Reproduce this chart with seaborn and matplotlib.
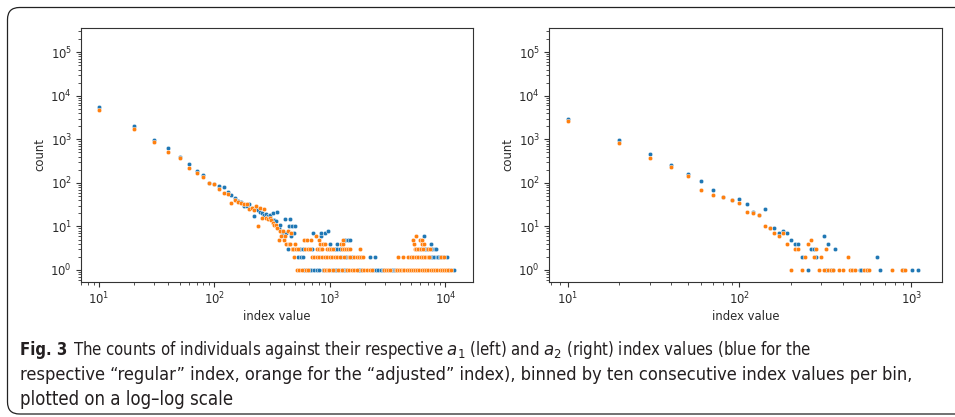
import matplotlib
matplotlib.use("Agg")
import matplotlib.pyplot as plt
import seaborn as sns
import pandas as pd
from matplotlib.patches import FancyBboxPatch
from matplotlib import font_manager
from matplotlib.font_manager import FontProperties

# ---------------- data ----------------
# a1, regular index (blue): dense part 10..500
a1_reg_x = [10, 20, 30, 40, 50, 60, 70, 80, 90, 100, 110, 120, 130, 140, 150, 160, 170, 180, 190, 200,
            210, 220, 230, 240, 250, 260, 270, 280, 290, 300, 310, 320, 330, 340, 350, 360, 370, 380, 390, 400,
            410, 420, 430, 440, 450, 460, 470, 480, 490, 500]
a1_reg_n = [5400, 2050, 980, 620, 400, 275, 190, 150, 98, 92, 86, 80, 62, 52, 46, 38, 36, 30, 29, 32,
            26, 17, 26, 24, 22, 20, 18, 19, 17, 18, 15, 20, 14, 13, 21, 9, 11, 8, 7, 6,
            15, 7, 3, 10, 15, 6, 10, 3, 7, 10]
# a1, regular index: sparse tail, grouped by count
a1_reg_tail_1 = [600, 630, 660, 690, 730, 770, 800, 870, 1040, 1090, 1130, 1200, 1260, 1320, 1380, 1750, 1800,
                 1860, 2370, 2490, 2610, 2740, 2880, 3420, 3550, 3650, 10700, 11800]
a1_reg_tail_2 = [530, 560, 590, 1250, 1390, 1560, 2210, 2440, 7400, 7700, 8000, 8400, 8600, 8900, 9550, 10400]
a1_reg_tail_3 = [550, 580, 700, 1100, 1150, 1220, 6000, 6600, 6860, 7570, 8090, 8300]
a1_reg_tail_4 = [1010, 1140, 7460]
a1_reg_tail_5 = [1350, 1420, 1500]
a1_reg_tail_6 = [840, 6530]
a1_reg_tail_7 = [720, 830, 910]
a1_reg_tail_8 = [960]

# a1, adjusted index (orange)
a1_adj_x = a1_reg_x
a1_adj_n = [4800, 1720, 880, 510, 364, 216, 167, 135, 97, 93, 74, 58, 55, 35, 41, 37, 34, 32, 33, 25,
            27, 24, 29, 10, 26, 16, 25, 16, 15, 16, 14, 12, 11, 11, 9, 5, 8, 6, 8, 5,
            6, 4, 8, 4, 4, 7, 3, 3, 2, 4]
a1_adj_tail_1 = [520, 540, 570, 620, 650, 880, 920, 960, 990, 1070, 1170, 1280, 1410, 1470, 1540, 1620, 1700,
                 1900, 1990, 2090, 2200, 2300, 2950, 3050, 3150, 3300, 3700, 3800, 3950, 4100, 4250, 4400,
                 4600, 4800, 5000, 5200, 5450, 5700, 5950, 6200, 6500, 6800, 7100, 7450, 7800, 8150, 8500,
                 8900, 9300, 9700, 10100, 10500, 11100]
a1_adj_tail_2 = [700, 730, 770, 810, 850, 900, 950, 1000, 1050, 1110, 1160, 1220, 1310, 1450, 1500, 1620,
                 1710, 1780, 1860, 1940, 3890, 4300, 4750, 5000, 5250, 5500, 5800, 6100, 6400, 6700, 7000,
                 7200, 9200, 9800]
a1_adj_tail_3 = [510, 530, 610, 640, 670, 780, 800, 830, 860, 940, 980, 1020, 1060, 1260, 1330, 1380, 1440,
                 1480, 1810, 5400, 5600, 5800, 6150, 6400, 7050, 7300]
a1_adj_tail_4 = [820, 870, 910, 1240, 1290, 5330, 6250, 6550]
a1_adj_tail_5 = [600, 630, 680, 800, 1300, 5250, 6000, 6300]
a1_adj_tail_6 = [760, 5550]

# a2, regular index (blue)
a2_reg_x = [10, 20, 30, 40, 50, 60, 70, 80, 90, 100, 110, 120, 130, 140, 150, 160, 170, 180, 190, 200,
            210, 220, 230, 250, 260, 270, 280, 310, 320, 330, 340, 350, 360, 500, 510, 550, 630, 660,
            890, 900, 1010, 1100]
a2_reg_n = [2900, 980, 465, 256, 164, 112, 68, 47, 41, 42, 32, 22, 18, 25, 9, 9, 7, 8, 7, 5,
            4, 4, 2, 1, 3, 3, 2, 6, 1, 4, 1, 1, 3, 1, 1, 1, 2, 1,
            1, 1, 1, 1]
# a2, adjusted index (orange)
a2_adj_x = [10, 20, 30, 40, 50, 60, 70, 80, 90, 100, 110, 120, 130, 140, 150, 160, 170, 180, 190, 200,
            210, 220, 230, 240, 250, 260, 270, 280, 290, 300, 310, 320, 330, 340, 350, 380, 400, 430,
            440, 450, 470, 530, 550, 570, 770, 880, 920]
a2_adj_n = [2690, 820, 364, 226, 143, 68, 53, 47, 41, 35, 22, 20, 18, 10, 9, 7, 6, 7, 4, 1,
            3, 3, 1, 2, 4, 5, 2, 3, 1, 2, 1, 3, 1, 1, 1, 1, 1, 2,
            1, 1, 1, 1, 1, 1, 1, 1, 1]

caption_bold = "Fig. 3"
caption_lines = [
    "The counts of individuals against their respective $a_1$ (left) and $a_2$ (right) index values (blue for the",
    "respective \u201cregular\u201d index, orange for the \u201cadjusted\u201d index), binned by ten consecutive index values per bin,",
    "plotted on a log\u2013log scale",
]

BLUE = "#1f77b4"
ORANGE = "#ff7f0e"


def tail_frame(groups):
    xs, ns = [], []
    for n, lst in groups:
        xs += lst
        ns += [n] * len(lst)
    return xs, ns


rx, rn = tail_frame([(1, a1_reg_tail_1), (2, a1_reg_tail_2), (3, a1_reg_tail_3), (4, a1_reg_tail_4),
                     (5, a1_reg_tail_5), (6, a1_reg_tail_6), (7, a1_reg_tail_7), (8, a1_reg_tail_8)])
ox, on = tail_frame([(1, a1_adj_tail_1), (2, a1_adj_tail_2), (3, a1_adj_tail_3), (4, a1_adj_tail_4),
                     (5, a1_adj_tail_5), (6, a1_adj_tail_6)])

df1_reg = pd.DataFrame({"index value": a1_reg_x + rx, "count": a1_reg_n + rn})
df1_adj = pd.DataFrame({"index value": a1_adj_x + ox, "count": a1_adj_n + on})
df2_reg = pd.DataFrame({"index value": a2_reg_x, "count": a2_reg_n})
df2_adj = pd.DataFrame({"index value": a2_adj_x, "count": a2_adj_n})

# ---------------- figure ----------------
sns.set_style("ticks")
plt.rcParams["font.family"] = ["DejaVu Sans"]
plt.rcParams["mathtext.fontset"] = "dejavusans"

W, H = 955, 417
fig = plt.figure(figsize=(W / 100, H / 100), dpi=100)

ax1 = fig.add_axes([81 / W, 1 - 282 / H, 392 / W, 254 / H])
ax2 = fig.add_axes([549 / W, 1 - 282 / H, 393 / W, 254 / H])

for ax, dr, da, xl in [(ax1, df1_reg, df1_adj, (7.0, 17300)),
                       (ax2, df2_reg, df2_adj, (7.8, 1510))]:
    sns.scatterplot(data=dr, x="index value", y="count", ax=ax, color=BLUE, s=10,
                    linewidth=0.3, edgecolor="white", zorder=2)
    sns.scatterplot(data=da, x="index value", y="count", ax=ax, color=ORANGE, s=10,
                    linewidth=0.3, edgecolor="white", zorder=3)
    ax.set_xscale("log")
    ax.set_yscale("log")
    ax.set_xlim(*xl)
    ax.set_ylim(0.53, 3.6e5)
    for sp in ax.spines.values():
        sp.set_visible(True)
        sp.set_color("#333333")
        sp.set_linewidth(0.8)
    ax.tick_params(axis="both", which="major", labelsize=8.4, length=3.5, width=0.8, colors="#333333",
                   labelcolor="#2a2a2a", pad=3)
    ax.tick_params(axis="both", which="minor", length=2, width=0.6, colors="#333333")
    ax.set_xlabel("index value", fontsize=8.4, color="#2a2a2a", labelpad=2)
    ax.set_ylabel("count", fontsize=8.4, color="#2a2a2a", labelpad=3)

# ---------------- caption font: prefer a condensed sans ----------------
cands = []
for f in font_manager.fontManager.ttflist:
    st = str(f.stretch)
    cond = ("condensed" in st.lower()) or ("Condensed" in f.fname) or ("Narrow" in f.name)
    if cond and f.style == "normal":
        cands.append(f)


def pick(weight_bold):
    pref = ["Open Sans", "Noto Sans", "DejaVu Sans", "Roboto", "Liberation Sans Narrow", "Lato"]
    best = None
    for p in pref:
        for f in cands:
            if f.name == p:
                isb = (f.weight in (600, 700, "bold", "semibold")) or ("Bold" in f.fname)
                if isb == weight_bold and "Semi" not in f.fname and "Extra" not in f.fname and "Light" not in f.fname:
                    return f.fname
                if isb == weight_bold and best is None:
                    best = f.fname
    return best


reg_file = pick(False)
bold_file = pick(True)
fp_reg = FontProperties(fname=reg_file) if reg_file else FontProperties(family="Roboto")
fp_bold = FontProperties(fname=bold_file) if bold_file else FontProperties(family="Roboto", weight="bold")

mt_family = fp_reg.get_name()
plt.rcParams["mathtext.it"] = mt_family + ":italic"
plt.rcParams["mathtext.rm"] = mt_family

# ---------------- frame ----------------
box = FancyBboxPatch((7.5 / 100, (H - 414) / 100), 12.0, (414 - 7.5) / 100,
                     boxstyle="round,pad=0,rounding_size=0.12",
                     transform=fig.dpi_scale_trans, fill=False, edgecolor="#222222", linewidth=0.9)
fig.patches.append(box)

# ---------------- caption ----------------
x0 = 20
baselines = [355, 380, 405]
targets_right = [808, 912, 262]
renderer = fig.canvas.get_renderer()

test = 12.0
widths = []
tb = fig.text(0, 0, caption_bold, fontproperties=fp_bold, fontsize=test)
wb = tb.get_window_extent(renderer).width
tb.remove()
for i, line in enumerate(caption_lines):
    tt = fig.text(0, 0, line, fontproperties=fp_reg, fontsize=test, math_fontfamily="custom")
    w = tt.get_window_extent(renderer).width
    tt.remove()
    if i == 0:
        w = w + wb + 6
    widths.append(w)
scales = [(targets_right[i] - x0) / widths[i] for i in range(3)]
mean_scale = (scales[0] + scales[1]) / 2.0
sizes = [test * min(max(s, mean_scale * 0.95), mean_scale * 1.07) for s in scales]

color = "#231f20"
t1 = fig.text(x0 / W, 1 - baselines[0] / H, caption_bold, fontproperties=fp_bold, fontsize=sizes[0],
              color=color, va="baseline")
bb = t1.get_window_extent(renderer)
fig.text((bb.x1 + 6 * sizes[0] / 12) / W, 1 - baselines[0] / H, caption_lines[0], fontproperties=fp_reg,
         fontsize=sizes[0], color=color, va="baseline", math_fontfamily="custom")
fig.text(x0 / W, 1 - baselines[1] / H, caption_lines[1], fontproperties=fp_reg, fontsize=sizes[1],
         color=color, va="baseline", math_fontfamily="custom")
fig.text(x0 / W, 1 - baselines[2] / H, caption_lines[2], fontproperties=fp_reg, fontsize=sizes[2],
         color=color, va="baseline", math_fontfamily="custom")

fig.savefig("out.png", dpi=100)
